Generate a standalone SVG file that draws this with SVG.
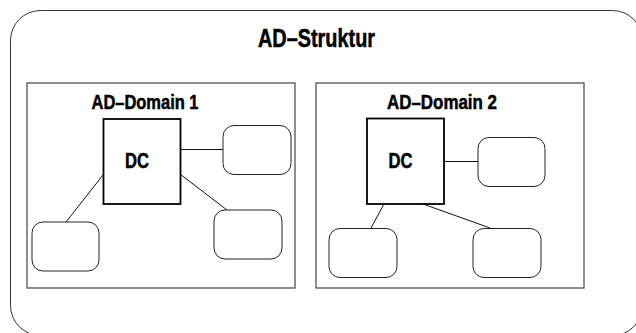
<svg xmlns="http://www.w3.org/2000/svg" width="636" height="333" viewBox="0 0 636 333">
  <style>
    .lbl { font-family: "Liberation Sans", Arial, sans-serif; font-weight: bold; fill: #000; stroke: #000; stroke-width: 0.5; text-anchor: middle; }
    .frame { fill: none; stroke: #333; stroke-width: 1; }
    .domain { fill: #fff; stroke: #444; stroke-width: 1.2; }
    .dc { fill: #fff; stroke: #000; stroke-width: 1.8; }
    .host { fill: #fff; stroke: #222; stroke-width: 1; }
    .link { fill: none; stroke: #111; stroke-width: 1; }
  </style>
  <rect width="636" height="333" fill="#fff"/>

  <g id="ad-struktur">
    <rect class="frame" x="10.5" y="10.5" width="632" height="325" rx="30" ry="30"/>
    <text class="lbl" x="316.5" y="47" font-size="25" textLength="117" lengthAdjust="spacingAndGlyphs">AD–Struktur</text>
  </g>

  <g id="domain1">
    <rect class="domain" x="27" y="83" width="268" height="205"/>
    <text class="lbl" x="145" y="108.5" font-size="20" textLength="107" lengthAdjust="spacingAndGlyphs">AD–Domain 1</text>
  </g>

  <g id="domain2">
    <rect class="domain" x="316" y="83" width="268" height="205"/>
    <text class="lbl" x="442" y="108.5" font-size="20" textLength="110" lengthAdjust="spacingAndGlyphs">AD–Domain 2</text>
  </g>

  <g id="connectors">
    <line class="link" x1="180" y1="149.5" x2="223" y2="149.5"/>
    <line class="link" x1="103" y1="175" x2="66" y2="222"/>
    <line class="link" x1="180" y1="174" x2="227" y2="210"/>
    <line class="link" x1="444" y1="161.5" x2="478" y2="161.5"/>
    <line class="link" x1="384" y1="204" x2="371" y2="228"/>
    <line class="link" x1="423" y1="204" x2="490" y2="228"/>
  </g>

  <g id="dc1">
    <rect class="dc" x="103.5" y="119" width="77" height="85"/>
    <text class="lbl" x="137" y="167.5" font-size="22" textLength="24" lengthAdjust="spacingAndGlyphs">DC</text>
  </g>
  <g id="host1a"><rect class="host" x="223" y="125.5" width="68" height="49" rx="11" ry="11"/></g>
  <g id="host1b"><rect class="host" x="32" y="222" width="67" height="49" rx="11" ry="11"/></g>
  <g id="host1c"><rect class="host" x="214" y="210" width="68" height="49" rx="11" ry="11"/></g>

  <g id="dc2">
    <rect class="dc" x="367" y="118.5" width="77" height="85.5"/>
    <text class="lbl" x="400.5" y="167.5" font-size="22" textLength="24" lengthAdjust="spacingAndGlyphs">DC</text>
  </g>
  <g id="host2a"><rect class="host" x="478" y="137.5" width="67" height="49" rx="11" ry="11"/></g>
  <g id="host2b"><rect class="host" x="329" y="228.5" width="68" height="49" rx="11" ry="11"/></g>
  <g id="host2c"><rect class="host" x="473" y="228.5" width="68" height="49" rx="11" ry="11"/></g>
</svg>
